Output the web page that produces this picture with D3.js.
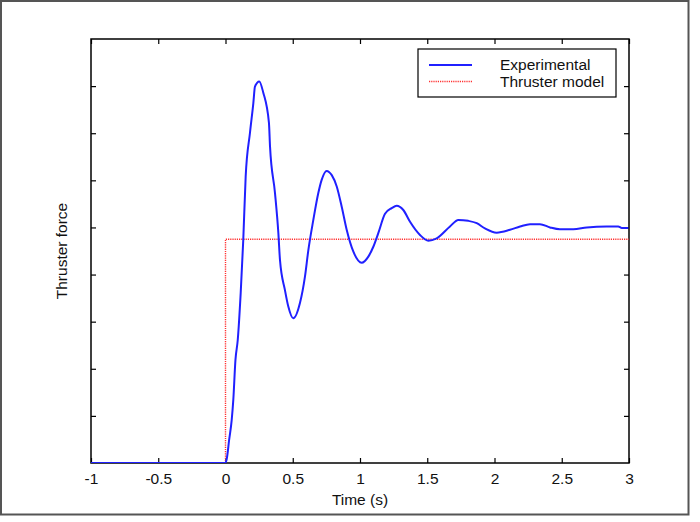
<!DOCTYPE html>
<html>
<head>
<meta charset="utf-8">
<script src="https://cdn.jsdelivr.net/npm/d3@7"></script>
<style>
  html, body { margin: 0; padding: 0; background: #fff; }
  svg { display: block; }
  text { font-family: "Liberation Sans", Arial, Helvetica, sans-serif; fill: #111; }
</style>
</head>
<body>
<svg id="chart" width="700" height="522"></svg>
<script>
// ---- data ----
const xTicks = [-1, -0.5, 0, 0.5, 1, 1.5, 2, 2.5, 3];
const xTickLabels = ["-1", "-0.5", "0", "0.5", "1", "1.5", "2", "2.5", "3"];
const yTicks = [1, 2, 3, 4, 5, 6, 7, 8];
const seriesNames = ["Experimental", "Thruster model"];

const expTime = [-1, 0, 0.01, 0.027, 0.046, 0.058, 0.074, 0.091, 0.113, 0.132, 0.150, 0.182, 0.207, 0.219, 0.251,
  0.281, 0.323, 0.331, 0.368, 0.393, 0.405, 0.442, 0.467, 0.504, 0.554, 0.591, 0.616, 0.653, 0.690,
  0.715, 0.752, 0.790, 0.827, 0.864, 0.901, 0.950, 1.013, 1.062, 1.099, 1.136, 1.186, 1.236, 1.273,
  1.322, 1.372, 1.446, 1.508, 1.570, 1.669, 1.731, 1.805, 1.868, 1.929, 2.016, 2.115, 2.190, 2.264,
  2.338, 2.413, 2.487, 2.586, 2.686, 2.834, 2.920, 2.946, 2.995];
const expForce = [0, 0, 0.1, 0.49, 0.91, 1.34, 2.19, 2.61, 3.61, 4.73, 6.08, 7.01, 7.64, 7.99, 8.10,
  7.86, 7.22, 6.72, 5.73, 4.88, 4.31, 3.67, 3.32, 3.07, 3.40, 3.96, 4.52, 5.16, 5.73,
  6.01, 6.20, 6.11, 5.87, 5.44, 4.95, 4.49, 4.25, 4.38, 4.59, 4.88, 5.29, 5.41, 5.46,
  5.37, 5.12, 4.84, 4.72, 4.77, 5.02, 5.16, 5.14, 5.09, 4.98, 4.89, 4.95, 5.02, 5.07,
  5.07, 5.00, 4.96, 4.96, 5.00, 5.02, 5.02, 4.99, 4.99];

const modelTime = [-1, 0, 0, 3];
const modelForce = [0, 0, 4.75, 4.75];

// ---- layout ----
const svg = d3.select("#chart");
const L = 91, R = 629, T = 39, B = 463;
const FS = 15.5;

const x = d3.scaleLinear().domain([-1, 3]).range([L, R]);
const y = d3.scaleLinear().domain([0, 9]).range([B, T]);

// outer figure border
svg.append("rect").attr("x", 1).attr("y", 1).attr("width", 687.5).attr("height", 513.5)
  .attr("fill", "none").attr("stroke", "#555").attr("stroke-width", 2);

const tickLen = 5;
const gB = svg.append("g").attr("transform", `translate(0,${B})`)
  .call(d3.axisBottom(x).tickValues(xTicks).tickSizeInner(-tickLen).tickSizeOuter(0)
    .tickFormat((d, i) => xTickLabels[i]).tickPadding(10));
const gT = svg.append("g").attr("transform", `translate(0,${T})`)
  .call(d3.axisTop(x).tickValues(xTicks).tickSizeInner(-tickLen).tickSizeOuter(0).tickFormat(""));
const gL = svg.append("g").attr("transform", `translate(${L},0)`)
  .call(d3.axisLeft(y).tickValues(yTicks).tickSizeInner(-tickLen).tickSizeOuter(0).tickFormat(""));
const gR = svg.append("g").attr("transform", `translate(${R},0)`)
  .call(d3.axisRight(y).tickValues(yTicks).tickSizeInner(-tickLen).tickSizeOuter(0).tickFormat(""));

[gB, gT, gL, gR].forEach(g => {
  g.select(".domain").remove();
  g.selectAll(".tick line").attr("stroke", "#000").attr("stroke-width", 1.2);
});
gB.selectAll(".tick text").attr("font-size", FS)
  .attr("font-family", "Liberation Sans, Arial, sans-serif").attr("fill", "#111");

// plot frame
svg.append("rect").attr("x", L).attr("y", T).attr("width", R - L).attr("height", B - T)
  .attr("fill", "none").attr("stroke", "#000").attr("stroke-width", 1.5);

svg.append("clipPath").attr("id", "clip").append("rect")
  .attr("x", L).attr("y", T).attr("width", R - L).attr("height", B - T);

const modelData = modelTime.map((t, i) => [t, modelForce[i]]);
const expData = expTime.map((t, i) => [t, expForce[i]]);

const lineLinear = d3.line().x(d => x(d[0])).y(d => y(d[1]));
const lineSmooth = d3.line().x(d => x(d[0])).y(d => y(d[1])).curve(d3.curveMonotoneX);

svg.append("path").datum(modelData).attr("d", lineLinear)
  .attr("fill", "none").attr("stroke", "#ff3030").attr("stroke-width", 1.4)
  .attr("stroke-dasharray", "1.2,1").attr("clip-path", "url(#clip)");

svg.append("path").datum(expData).attr("d", lineSmooth)
  .attr("fill", "none").attr("stroke", "#2020ff").attr("stroke-width", 2)
  .attr("stroke-linejoin", "round").attr("clip-path", "url(#clip)");

// legend
const lg = svg.append("g");
lg.append("rect").attr("x", 418).attr("y", 49).attr("width", 198).attr("height", 48)
  .attr("fill", "#fff").attr("stroke", "#000").attr("stroke-width", 1.2);
lg.append("line").attr("x1", 429).attr("x2", 472).attr("y1", 65).attr("y2", 65)
  .attr("stroke", "#2020ff").attr("stroke-width", 2);
lg.append("line").attr("x1", 429).attr("x2", 472).attr("y1", 81.5).attr("y2", 81.5)
  .attr("stroke", "#ff3030").attr("stroke-width", 1.4).attr("stroke-dasharray", "1.2,1");
lg.append("text").attr("x", 500).attr("y", 70).attr("font-size", FS).text(seriesNames[0]);
lg.append("text").attr("x", 500).attr("y", 86.5).attr("font-size", FS).text(seriesNames[1]);

// axis titles
svg.append("text").attr("x", (L + R) / 2).attr("y", 505).attr("text-anchor", "middle")
  .attr("font-size", FS).text("Time (s)");
svg.append("text").attr("transform", `translate(67,${(T + B) / 2}) rotate(-90)`)
  .attr("text-anchor", "middle").attr("font-size", FS).text("Thruster force");
</script>
</body>
</html>
